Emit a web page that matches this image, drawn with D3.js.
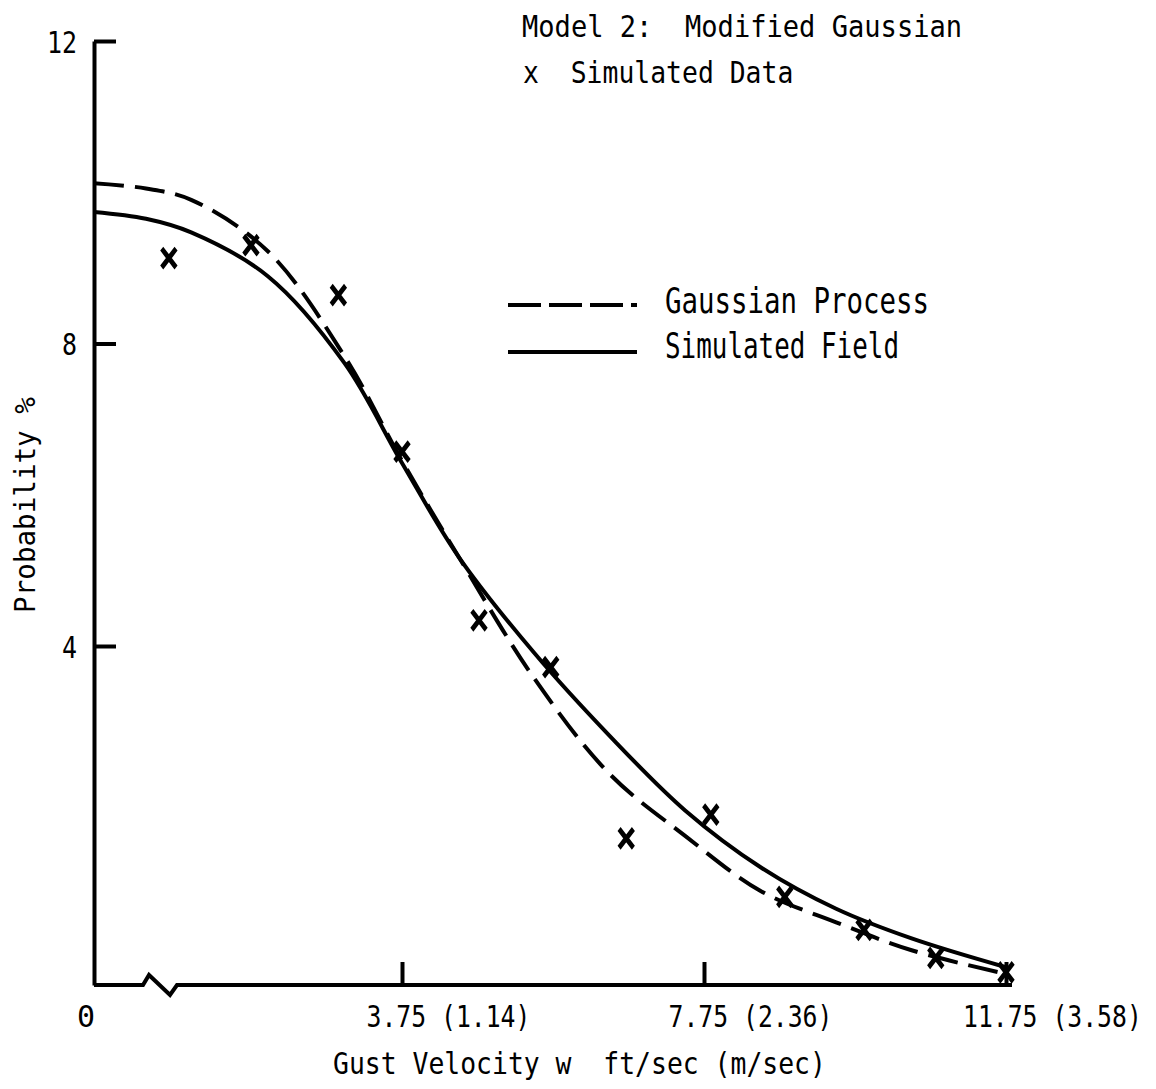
<!DOCTYPE html>
<html>
<head>
<meta charset="utf-8">
<script src="https://cdn.jsdelivr.net/npm/d3@7"></script>
<style>
body { margin: 0; background: #fff; }
text { font-family: "DejaVu Sans Mono", monospace; fill: #000; white-space: pre; }
</style>
</head>
<body>
<div id="chart"></div>
<script>
// curves sampled along the gust velocity axis (ft/sec)
var curveX = [0, 0.5, 1, 2, 3, 3.75, 4.5, 5.5, 6.5, 7.5, 8.5, 9.5, 10.5, 11.75];
var gaussianProcess = [10.12, 10.05, 9.90, 9.22, 7.83, 6.45, 5.18, 3.62, 2.49, 1.76, 1.11, 0.74, 0.41, 0.13];
var simulatedField = [9.74, 9.65, 9.47, 8.89, 7.74, 6.42, 5.18, 3.92, 2.94, 2.06, 1.39, 0.90, 0.55, 0.21];

// simulated data (x marks)
var dataX = [0.72, 1.78, 2.92, 3.75, 4.77, 5.72, 6.72, 7.84, 8.82, 9.87, 10.82, 11.75];
var dataY = [9.13, 9.30, 8.64, 6.57, 4.34, 3.75, 1.73, 2.01, 1.04, 0.65, 0.32, 0.15];

var xTicks = [3.75, 7.75, 11.75];
var xTickLabels = ["3.75 (1.14)", "7.75 (2.36)", "11.75 (3.58)"];
var yTicks = [4, 8, 12];

var width = 1156, height = 1089;

var svg = d3.select("#chart")
    .append("svg")
    .attr("width", width)
    .attr("height", height);

// x axis is broken near zero, so the first segment is stretched
var x = d3.scaleLinear()
    .domain([0, 0.75, 3.75, 11.75])
    .range([94, 172, 402, 1006]);

var y = d3.scaleLinear()
    .domain([0, 4, 12])
    .range([985, 646, 41]);

// squeeze monospace text to the typewriter pitch of the original
function fit(sel, pitch) {
    sel.each(function() {
        var t = d3.select(this);
        t.attr("textLength", t.text().length * pitch)
         .attr("lengthAdjust", "spacingAndGlyphs");
    });
    return sel;
}

// y axis
var yAxis = svg.append("g")
    .attr("transform", "translate(" + x(0) + ",0)")
    .call(d3.axisLeft(y).tickValues(yTicks).tickSizeInner(-22).tickSizeOuter(0).tickPadding(17));
yAxis.selectAll("path, line").attr("stroke", "#000").attr("stroke-width", 4);
yAxis.selectAll("text")
    .attr("font-size", 31)
    .attr("font-family", "DejaVu Sans Mono")
    .attr("dy", "0.36em")
    .attr("fill", "#000");
fit(yAxis.selectAll("text"), 15);

// x axis ticks
var labelScale = 0.825;
var xAxis = svg.append("g")
    .attr("transform", "translate(0," + y(0) + ")")
    .call(d3.axisBottom(x).tickValues(xTicks).tickSizeInner(-23).tickSizeOuter(0)
        .tickFormat(function(d, i) { return xTickLabels[i]; }));
xAxis.select(".domain").remove();
xAxis.selectAll("line").attr("stroke", "#000").attr("stroke-width", 4);
xAxis.selectAll("text")
    .attr("font-size", 30)
    .attr("font-family", "DejaVu Sans Mono")
    .attr("fill", "#000")
    .attr("text-anchor", "start")
    .attr("transform", "scale(" + labelScale + ",1)")
    .attr("y", 42)
    .attr("dy", 0)
    .attr("x", function(d, i) { return -(xTickLabels[i].split(" ")[0].length * 15 / 2 + 6) / labelScale; });

// x axis line with break mark
var x0 = x(0), y0 = y(0);
var axisPath = d3.path();
axisPath.moveTo(x0, y0);
axisPath.lineTo(x0 + 49, y0);
axisPath.lineTo(x0 + 55, y0 - 10);
axisPath.lineTo(x0 + 76, y0 + 10);
axisPath.lineTo(x0 + 83, y0);
axisPath.lineTo(x(11.75) + 6, y0);
svg.append("path")
    .attr("d", axisPath.toString())
    .attr("fill", "none")
    .attr("stroke", "#000")
    .attr("stroke-width", 4)
    .attr("stroke-linejoin", "miter");

svg.append("text")
    .attr("x", x0 - 8)
    .attr("y", y0 + 42)
    .attr("font-size", 30)
    .attr("text-anchor", "middle")
    .text("0");

// curves
var line = d3.line()
    .x(function(d) { return x(d[0]); })
    .y(function(d) { return y(d[1]); })
    .curve(d3.curveCatmullRom.alpha(0.5));

svg.append("path")
    .datum(d3.zip(curveX, simulatedField))
    .attr("d", line)
    .attr("fill", "none")
    .attr("stroke", "#000")
    .attr("stroke-width", 4);

svg.append("path")
    .datum(d3.zip(curveX, gaussianProcess))
    .attr("d", line)
    .attr("fill", "none")
    .attr("stroke", "#000")
    .attr("stroke-width", 4)
    .attr("stroke-dasharray", "30,11");

// simulated data marks
svg.selectAll(".mark")
    .data(d3.zip(dataX, dataY))
    .enter()
    .append("path")
    .attr("class", "mark")
    .attr("transform", function(d) { return "translate(" + x(d[0]) + "," + y(d[1]) + ") scale(0.95,1.25)"; })
    .attr("d", d3.symbol(d3.symbolX, 150))
    .attr("fill", "none")
    .attr("stroke", "#000")
    .attr("stroke-width", 4.5);

// titles
fit(svg.append("text")
    .attr("x", 522).attr("y", 37)
    .attr("font-size", 30)
    .text("Model 2:  Modified Gaussian"), 16.3);

fit(svg.append("text")
    .attr("x", 523).attr("y", 83)
    .attr("font-size", 30)
    .text("x  Simulated Data"), 15.9);

// legend
var legend = svg.append("g").attr("transform", "translate(508,305)");
legend.append("line")
    .attr("x1", 0).attr("x2", 129).attr("y1", 0).attr("y2", 0)
    .attr("stroke", "#000").attr("stroke-width", 4)
    .attr("stroke-dasharray", "33,8");
legend.append("line")
    .attr("x1", 0).attr("x2", 129).attr("y1", 47).attr("y2", 47)
    .attr("stroke", "#000").attr("stroke-width", 4);
fit(legend.append("text")
    .attr("x", 157).attr("y", 8)
    .attr("font-size", 36)
    .text("Gaussian Process"), 16.5);
fit(legend.append("text")
    .attr("x", 157).attr("y", 53)
    .attr("font-size", 36)
    .text("Simulated Field"), 15.6);

// axis titles
fit(svg.append("text")
    .attr("transform", "translate(35,505) rotate(-90)")
    .attr("text-anchor", "middle")
    .attr("font-size", 28)
    .text("Probability %"), 16.6);

fit(svg.append("text")
    .attr("x", 333).attr("y", 1074)
    .attr("font-size", 30)
    .text("Gust Velocity w  ft/sec (m/sec)"), 15.9);
</script>
</body>
</html>
